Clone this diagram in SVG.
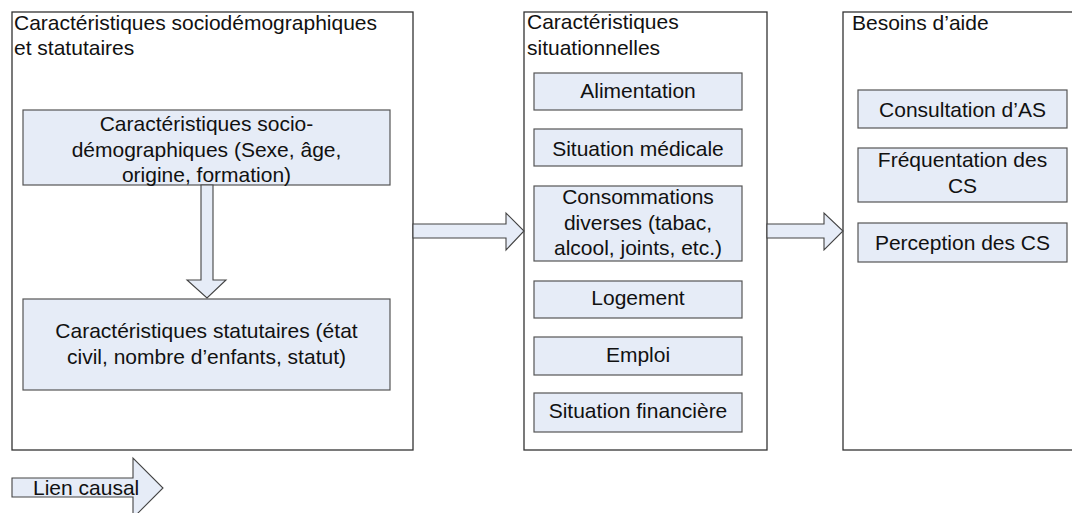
<svg xmlns="http://www.w3.org/2000/svg" width="1072" height="513" viewBox="0 0 1072 513">
<style>
.outer{fill:#ffffff;stroke:#333333;stroke-width:1.3}
.inner{fill:#e6ecf7;stroke:#555555;stroke-width:1.2}
.arr{fill:#e6ecf7;stroke:#444444;stroke-width:1.1;stroke-linejoin:miter}
text{font-family:"Liberation Sans",Arial,sans-serif;font-size:21px;fill:#111111}
.c{text-anchor:middle}
</style>
<rect width="1072" height="513" fill="#ffffff"/>
<g id="box-left">
<rect class="outer" x="12" y="12" width="401" height="438"/>
<text x="14" y="30">Caractéristiques sociodémographiques</text>
<text x="14" y="55">et statutaires</text>
</g>
<g id="node-socio">
<rect class="inner" x="23" y="110" width="367" height="75"/>
<text class="c" x="206.5" y="131">Caractéristiques socio-</text>
<text class="c" x="206.5" y="157">démographiques (Sexe, âge,</text>
<text class="c" x="206.5" y="182">origine, formation)</text>
</g>
<g id="node-statut">
<rect class="inner" x="23" y="299" width="367" height="91"/>
<text class="c" x="206.5" y="338">Caractéristiques statutaires (état</text>
<text class="c" x="206.5" y="364">civil, nombre d’enfants, statut)</text>
</g>
<g id="box-middle">
<rect class="outer" x="524" y="12" width="243" height="438"/>
<text x="527" y="29">Caractéristiques</text>
<text x="527" y="55">situationnelles</text>
</g>
<g id="node-alimentation">
<rect class="inner" x="534" y="73" width="208" height="37"/>
<text class="c" x="638" y="98">Alimentation</text>
</g>
<g id="node-medicale">
<rect class="inner" x="534" y="129" width="208" height="37"/>
<text class="c" x="638" y="156">Situation médicale</text>
</g>
<g id="node-consommations">
<rect class="inner" x="534" y="186" width="208" height="75"/>
<text class="c" x="638" y="204">Consommations</text>
<text class="c" x="638" y="230">diverses (tabac,</text>
<text class="c" x="638" y="255">alcool, joints, etc.)</text>
</g>
<g id="node-logement">
<rect class="inner" x="534" y="281" width="208" height="37"/>
<text class="c" x="638" y="305">Logement</text>
</g>
<g id="node-emploi">
<rect class="inner" x="534" y="337" width="208" height="38"/>
<text class="c" x="638" y="362">Emploi</text>
</g>
<g id="node-financiere">
<rect class="inner" x="534" y="393" width="208" height="39"/>
<text class="c" x="638" y="418">Situation financière</text>
</g>
<g id="box-right">
<rect class="outer" x="843" y="12" width="240" height="438"/>
<text x="852" y="30">Besoins d’aide</text>
</g>
<g id="node-consultation">
<rect class="inner" x="858" y="90" width="209" height="38"/>
<text class="c" x="962.5" y="117">Consultation d’AS</text>
</g>
<g id="node-frequentation">
<rect class="inner" x="858" y="148" width="209" height="54"/>
<text class="c" x="962.5" y="167">Fréquentation des</text>
<text class="c" x="962.5" y="193">CS</text>
</g>
<g id="node-perception">
<rect class="inner" x="858" y="223" width="209" height="39"/>
<text class="c" x="962.5" y="250">Perception des CS</text>
</g>
<g id="connectors">
<polygon class="arr" points="201,185 213,185 213,280 226,280 207,298 187,280 201,280"/>
<polygon class="arr" points="413,224 506,224 506,213 524,231 506,250 506,238 413,238"/>
<polygon class="arr" points="767,224 824,224 824,213 843,231 824,250 824,238 767,238"/>
</g>
<g id="legend">
<polygon class="arr" points="12,478 133,478 133,458 163,488 133,518 133,497 12,497"/>
<text x="33" y="495">Lien causal</text>
</g>
</svg>
